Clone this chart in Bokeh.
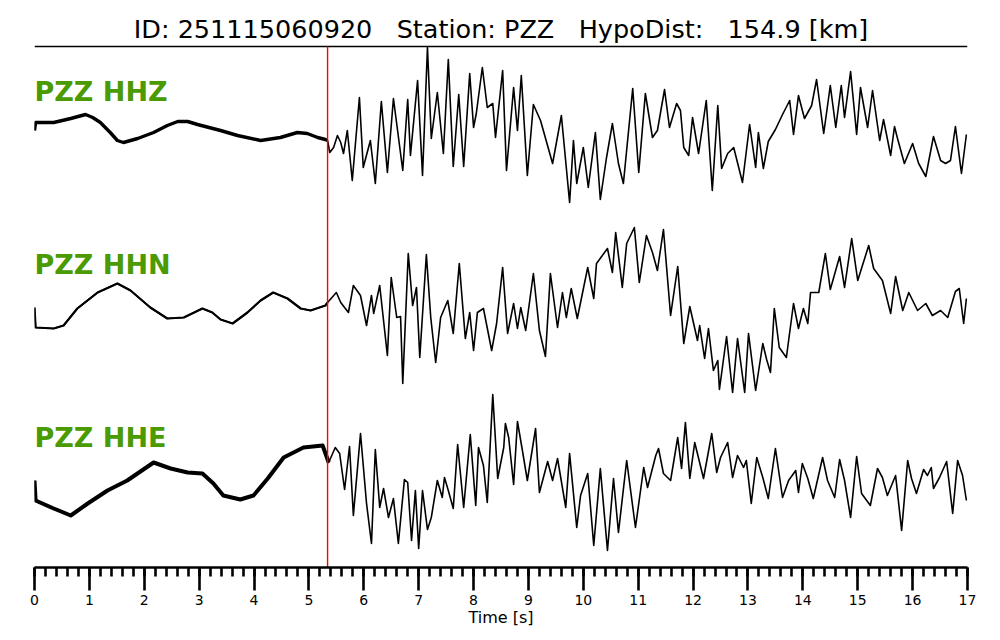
from bokeh.plotting import figure
from bokeh.models import Range1d, SingleIntervalTicker
from bokeh.core.properties import value
from bokeh.embed import file_html
from bokeh.resources import INLINE

# ---------------- data ----------------
NB = "\u00a0"
title_text = "ID: 251115060920" + NB * 2 + " Station: PZZ" + NB * 2 + " HypoDist:" + NB * 2 + " 154.9 [km]"
trace_names = ["PZZ HHZ", "PZZ HHN", "PZZ HHE"]
pick_time = 5.34          # P arrival [s]
t_min, t_max = 0, 17      # time axis [s]

hhz_t = [0.00, 0.02, 0.35, 0.66, 0.93, 1.06, 1.20, 1.38, 1.51, 1.62, 1.88, 2.17, 2.42, 2.61, 2.79, 2.97,
         3.39, 3.70, 4.12, 4.48, 4.79, 4.97, 5.16, 5.30,
         5.34, 5.38, 5.45, 5.52, 5.58, 5.63, 5.70, 5.79, 5.92, 5.99, 6.12, 6.21, 6.32, 6.43, 6.54, 6.71,
         6.80, 6.85, 6.98, 7.07, 7.16, 7.23, 7.34, 7.45, 7.54, 7.63, 7.73, 7.82, 7.93, 8.00, 8.05, 8.16,
         8.25, 8.35, 8.40, 8.53, 8.60, 8.73, 8.80, 8.87, 8.98, 9.09, 9.22, 9.44, 9.60, 9.75, 9.82, 9.88,
         10.00, 10.09, 10.22, 10.31, 10.42, 10.53, 10.64, 10.73, 10.90, 11.01, 11.13, 11.26, 11.35, 11.48,
         11.57, 11.70, 11.77, 11.83, 11.92, 11.99, 12.10, 12.24, 12.35, 12.45, 12.52, 12.63, 12.74, 12.90,
         13.03, 13.14, 13.19, 13.28, 13.37, 13.50, 13.63, 13.76, 13.83, 13.92, 14.03, 14.16, 14.25, 14.38,
         14.50, 14.60, 14.70, 14.76, 14.87, 14.98, 15.05, 15.18, 15.27, 15.40, 15.47, 15.60, 15.67, 15.72,
         15.85, 16.00, 16.11, 16.24, 16.38, 16.51, 16.60, 16.69, 16.78, 16.89, 16.98]
hhz_a = [-5, 3, 3, 7, 11, 8, 3, -7, -15, -17, -13, -7, 0, 4, 4, 1, -5, -10, -15, -12, -7, -8, -12, -14,
         -15, -27, -22, -10, -17, -28, -5, -55, 28, -42, -15, -58, 24, -47, 27, -45, 26, -30, 45, -50, 78,
         -13, 33, -28, 66, -41, 31, -41, 52, -2, 12, 58, 18, 22, -12, 55, -45, 38, -5, 50, -50, 21, 5, -38,
         10, -77, -15, -58, -22, -62, -7, -74, -33, 2, -38, -58, 37, -47, 32, -12, -5, 36, -2, 22, 15, -22,
         -30, 8, -28, 25, -65, 20, -43, -28, -22, -57, 1, -42, -7, -43, -16, -4, 11, 25, -9, 30, 7, 20, 46,
         -8, 40, -2, 40, 8, 54, -9, 38, -2, 35, -15, 6, -30, -1, -12, -38, -18, -38, -51, -11, -35, -38,
         -35, -1, -48, -9]

hhn_t = [0.00, 0.02, 0.35, 0.53, 0.78, 1.15, 1.51, 1.75, 2.11, 2.42, 2.72, 3.06, 3.24, 3.39, 3.61, 3.88,
         4.12, 4.35, 4.61, 4.85, 5.03, 5.30,
         5.34, 5.50, 5.58, 5.72, 5.81, 5.94, 6.05, 6.14, 6.18, 6.29, 6.43, 6.50, 6.60, 6.67, 6.71, 6.81,
         6.89, 6.96, 7.02, 7.14, 7.22, 7.31, 7.40, 7.53, 7.63, 7.74, 7.85, 7.93, 8.00, 8.07, 8.18, 8.33,
         8.42, 8.53, 8.62, 8.73, 8.80, 8.86, 8.95, 9.09, 9.20, 9.31, 9.40, 9.53, 9.62, 9.69, 9.78, 9.89,
         10.08, 10.19, 10.24, 10.44, 10.53, 10.59, 10.71, 10.79, 10.93, 11.02, 11.15, 11.26, 11.35, 11.46,
         11.59, 11.72, 11.83, 11.94, 12.08, 12.12, 12.21, 12.28, 12.37, 12.45, 12.48, 12.61, 12.72, 12.81,
         12.94, 13.01, 13.14, 13.27, 13.34, 13.41, 13.48, 13.57, 13.70, 13.83, 13.92, 14.01, 14.09, 14.14,
         14.29, 14.41, 14.50, 14.67, 14.76, 14.89, 15.00, 15.20, 15.29, 15.45, 15.60, 15.69, 15.82, 15.93,
         16.09, 16.24, 16.36, 16.51, 16.64, 16.78, 16.85, 16.93, 16.98]
hhn_a = [-2, -22, -23, -20, -3, 13, 22, 15, -2, -13, -12, -3, -7, -14, -18, -7, 5, 13, 7, -3, -5, 0,
         3, 13, 3, -7, 20, 10, -20, 10, -8, 20, -50, 28, -12, -11, -78, 52, 0, 18, -52, 51, -12, -57, -12,
         5, -28, 42, -33, -7, -45, -7, -3, -45, -18, 38, -28, 2, -23, -2, -25, 32, -25, -51, 32, -22, 13,
         -12, 17, -13, 38, 7, 42, 57, 33, 73, 18, 62, 78, 23, 70, 53, 35, 76, -10, 39, -38, -1, -35, -20,
         -53, -23, -65, -55, -84, -31, -87, -33, -87, -28, -85, -38, -54, -67, -3, -42, -52, 2, -23, -3,
         -18, 13, 13, 52, 16, 49, 18, 67, 25, 60, 37, 25, -8, 29, -5, 13, -5, 2, -10, -5, -12, 14, 17, -18, 7]

hhe_t = [0.00, 0.02, 0.35, 0.66, 0.97, 1.33, 1.69, 2.17, 2.48, 2.79, 3.06, 3.26, 3.44, 3.75, 3.99, 4.25,
         4.54, 4.90, 5.25,
         5.36, 5.48, 5.56, 5.65, 5.74, 5.81, 5.94, 6.05, 6.14, 6.21, 6.29, 6.36, 6.45, 6.54, 6.63, 6.74,
         6.80, 6.87, 6.94, 7.00, 7.07, 7.16, 7.23, 7.34, 7.43, 7.47, 7.54, 7.63, 7.71, 7.82, 7.94, 8.04,
         8.09, 8.18, 8.25, 8.35, 8.44, 8.55, 8.58, 8.64, 8.73, 8.80, 8.89, 8.98, 9.13, 9.20, 9.35, 9.44,
         9.53, 9.68, 9.75, 9.88, 9.95, 10.08, 10.19, 10.31, 10.44, 10.55, 10.64, 10.79, 10.95, 11.10,
         11.17, 11.32, 11.37, 11.46, 11.59, 11.72, 11.79, 11.86, 11.94, 12.03, 12.19, 12.34, 12.43, 12.50,
         12.63, 12.72, 12.81, 12.92, 12.97, 13.06, 13.16, 13.27, 13.37, 13.50, 13.63, 13.74, 13.87, 13.92,
         13.99, 14.09, 14.19, 14.36, 14.45, 14.58, 14.67, 14.76, 14.87, 14.98, 15.07, 15.23, 15.36, 15.45,
         15.54, 15.69, 15.80, 15.91, 15.98, 16.07, 16.20, 16.27, 16.34, 16.38, 16.49, 16.62, 16.73, 16.82,
         16.91, 16.98]
hhe_a = [0, -20, -28, -35, -23, -10, 0, 18, 12, 8, 7, -3, -15, -19, -15, 2, 23, 33, 35,
         18, 33, 27, -9, 34, -35, 47, -23, -63, 31, -27, -8, -37, -18, -63, 1, -2, -60, -10, -68,
         -10, -49, -37, 0, -17, 3, -10, -28, 36, -27, 46, -25, 33, 15, -22, 86, 2, 33, 57, 43,
         -4, 59, 30, 0, 52, -12, 19, 0, 22, -27, 27, -47, -15, 7, -65, 12, -70, 2, -52, 20,
         -47, 13, -7, 25, 32, 7, 0, 43, 12, 58, 2, 38, 2, 47, 8, 23, 38, 3, 25, 13,
         20, -23, 23, 3, -18, 32, -17, 0, 10, -12, 17, 2, -18, 23, 0, -17, 21, 0, -37, 24,
         -13, -25, 12, 3, -15, 5, -50, 20, 2, -13, 11, 5, 13, -8, 3, 19, -33, 20, 5, -20]

traces = [(hhz_t, hhz_a), (hhn_t, hhn_a), (hhe_t, hhe_a)]

# ---------------- layout / style ----------------
FONT = value("DejaVu Sans")
GREEN = "#4a9a00"
trace_offsets = [-125, -305, -480]
label_offsets = [34, 41, 43]
noise_widths = [3.4, 2.2, 4.0]
title_y = -28
title_line_y = -46
bottom_y = -567

p = figure(width=1000, height=640,
           x_range=Range1d(t_min, t_max), y_range=Range1d(bottom_y, 0),
           output_backend="svg", toolbar_location=None,
           min_border_left=34, min_border_right=33, min_border_top=0, min_border_bottom=73,
           y_axis_location=None)
p.grid.visible = False
p.outline_line_color = None
p.background_fill_color = "white"
p.border_fill_color = "white"

ax = p.xaxis[0]
ax.ticker = SingleIntervalTicker(interval=1, num_minor_ticks=5)
ax.axis_line_width = 2.6
ax.axis_line_color = "black"
ax.major_tick_line_width = 2.6
ax.minor_tick_line_width = 2.6
ax.major_tick_line_color = "black"
ax.minor_tick_line_color = "black"
ax.major_tick_in = 0
ax.major_tick_out = 23
ax.minor_tick_in = 0
ax.minor_tick_out = 9
ax.major_label_standoff = 4
ax.major_label_text_font = "DejaVu Sans"
ax.major_label_text_font_size = "14px"
ax.major_label_text_color = "black"
ax.axis_label = "Time [s]"
ax.axis_label_text_font = "DejaVu Sans"
ax.axis_label_text_font_size = "16px"
ax.axis_label_text_font_style = "normal"
ax.axis_label_text_color = "black"
ax.axis_label_standoff = 0

# title and separator line
p.text(x=[(t_min + t_max) / 2], y=[title_y], text=[title_text], text_font=FONT,
       text_font_size="25.5px", text_align="center", text_baseline="alphabetic", text_color="black")
p.line(x=[t_min, t_max], y=[title_line_y, title_line_y], line_color="black", line_width=1.5)

for (tt, aa), off, loff, nw, name in zip(traces, trace_offsets, label_offsets, noise_widths, trace_names):
    ys = [off + a for a in aa]
    n_pre = sum(1 for t in tt if t < pick_time)
    # pre-event noise band
    p.line(x=tt[:n_pre + 1], y=ys[:n_pre + 1], line_color="black", line_width=nw, line_join="round")
    p.line(x=tt, y=ys, line_color="black", line_width=1.6, line_join="round")
    p.text(x=[t_min], y=[off + loff], text=[name], text_font=FONT, text_font_style="bold",
           text_font_size="27px", text_color=GREEN, text_align="left", text_baseline="alphabetic")

# pick marker (on top)
p.line(x=[pick_time, pick_time], y=[title_line_y, bottom_y], line_color="#ff0000", line_width=1.4)

open("out.html", "w").write(file_html(p, INLINE))
